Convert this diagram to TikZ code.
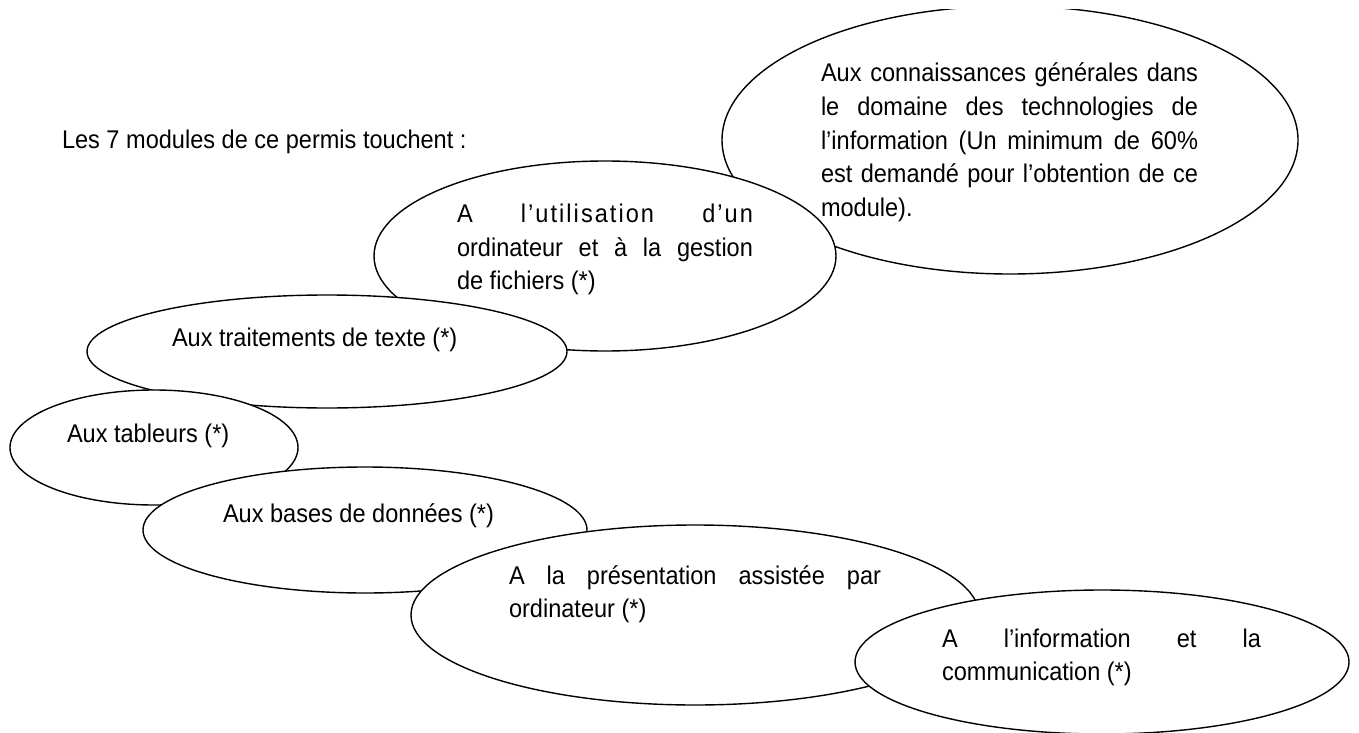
\documentclass[tikz,border=0pt]{standalone}
\usepackage{fontspec}
\setmainfont[FakeStretch=0.92]{Liberation Sans}
\newfontfamily\spacedfont[FakeStretch=0.92,LetterSpace=8]{Liberation Sans}
\usetikzlibrary{shapes.geometric}
\newcommand{\ftxt}{\fontsize{25.6pt}{33.6pt}\selectfont}
\newcommand{\fillline}[1]{\makebox[\linewidth][s]{#1}}
\begin{document}
\begin{tikzpicture}[x=1pt,y=-1pt,
  ell/.style={ellipse, draw=black, line width=1.4pt, fill=white, inner sep=0pt, outer sep=0pt},
  txt/.style={anchor=base west, inner sep=0pt, outer sep=0pt, font=\ftxt}]
\useasboundingbox (0,0) rectangle (1359,733);
\clip (0,10) rectangle (1359,733);
% title
\node[txt] (intro) at (62,149) {Les 7 modules de ce permis touchent :};
% ellipse 1
\node[ell, minimum width=576pt, minimum height=268pt] (e1) at (1010,140) {};
\node[txt] (t1) at (821,82) {\parbox[t]{377pt}{\ftxt
  \fillline{Aux connaissances générales dans}\\
  \fillline{le domaine des technologies de}\\
  \fillline{l’information (Un minimum de 60\%}\\
  \fillline{est demandé pour l’obtention de ce}\\
  module).}};
% ellipse 2
\node[ell, minimum width=462pt, minimum height=190pt] (e2) at (605,256) {};
\node[txt] (t2) at (457,222.5) {\parbox[t]{296pt}{\ftxt
  \fillline{A {\spacedfont l’utilisation} {\spacedfont d’un}}\\
  \fillline{ordinateur et à la gestion}\\
  de fichiers (*)}};
% ellipse 3
\node[ell, minimum width=480pt, minimum height=113pt] (e3) at (327,351.5) {};
\node[txt] (t3) at (172,346) {Aux traitements de texte (*)};
% ellipse 4
\node[ell, minimum width=288pt, minimum height=115pt] (e4) at (154,447.5) {};
\node[txt] (t4) at (67,442) {Aux tableurs (*)};
% ellipse 5
\node[ell, minimum width=444pt, minimum height=126pt] (e5) at (365,530) {};
\node[txt] (t5) at (223,522) {Aux bases de données (*)};
% ellipse 6
\node[ell, minimum width=568pt, minimum height=180pt] (e6) at (695,615) {};
\node[txt] (t6) at (509,584) {\parbox[t]{372pt}{\ftxt
  \fillline{A la présentation assistée par}\\
  ordinateur (*)}};
% ellipse 7
\node[ell, minimum width=494pt, minimum height=144pt] (e7) at (1102,662) {};
\node[txt] (t7) at (942,647) {\parbox[t]{319pt}{\ftxt
  \fillline{A l’information et la}\\
  communication (*)}};
\end{tikzpicture}
\end{document}
